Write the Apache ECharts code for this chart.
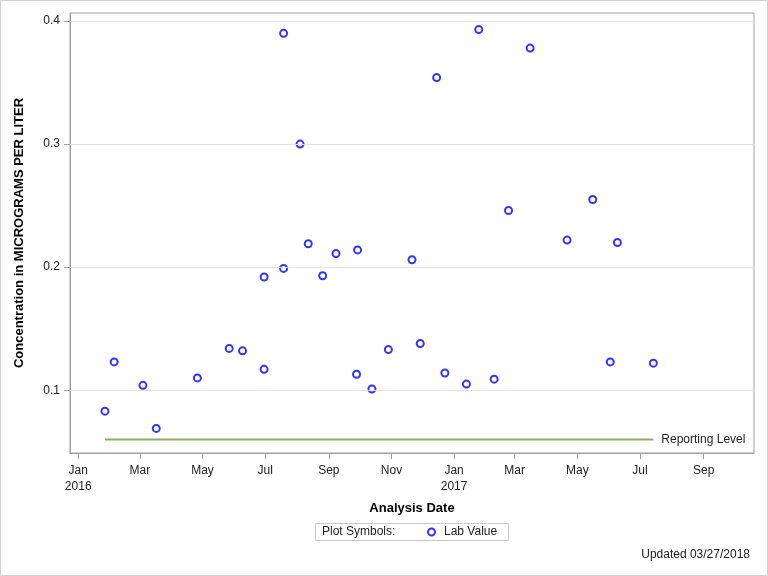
<!DOCTYPE html>
<html>
<head>
<meta charset="utf-8">
<script src="https://cdn.jsdelivr.net/npm/echarts@6/dist/echarts.min.js"></script>
<style>
html,body{margin:0;padding:0;background:#fff;}
#chart{width:768px;height:576px;}
</style>
</head>
<body>
<div id="chart"></div>
<script>
// ---- data ----
var sampleDates = [
  '2016-01-27','2016-02-05','2016-03-04','2016-03-17','2016-04-26','2016-05-27',
  '2016-06-09','2016-06-30','2016-06-30','2016-07-19','2016-07-19','2016-08-04',
  '2016-08-12','2016-08-26','2016-09-08','2016-09-29','2016-09-28','2016-10-13',
  '2016-10-29','2016-11-21','2016-11-29','2016-12-15','2016-12-23','2017-01-13',
  '2017-01-25','2017-02-09','2017-02-23','2017-03-16','2017-04-21','2017-05-16',
  '2017-06-02','2017-06-09','2017-07-14'
];
var labValues = [
  0.083, 0.123, 0.104, 0.069, 0.110, 0.134,
  0.132, 0.192, 0.117, 0.199, 0.390, 0.300,
  0.219, 0.193, 0.211, 0.214, 0.113, 0.101,
  0.133, 0.206, 0.138, 0.354, 0.114, 0.105,
  0.393, 0.109, 0.246, 0.378, 0.222, 0.255,
  0.123, 0.220, 0.122
];
var reportingLevel = 0.06;
var reportingDates = ['2016-01-27', '2017-07-14'];
var xTickDates = ['2016-01-01','2016-03-01','2016-05-01','2016-07-01','2016-09-01','2016-11-01',
                  '2017-01-01','2017-03-01','2017-05-01','2017-07-01','2017-09-01'];
var xTickLabels = ['Jan\n2016','Mar','May','Jul','Sep','Nov','Jan\n2017','Mar','May','Jul','Sep'];
var yTickValues = [0.1, 0.2, 0.3, 0.4];
var yTickLabels = ['0.1','0.2','0.3','0.4'];
var xMin = '2015-12-24', xMax = '2017-10-20';
var yMin = 0.049, yMax = 0.4065;

function ts(s){ return Date.UTC(+s.slice(0,4), +s.slice(5,7) - 1, +s.slice(8,10)); }
var xTickTs = xTickDates.map(ts);

var FONT = '"Liberation Sans", Arial, sans-serif';
var chart = echarts.init(document.getElementById('chart'), null, {renderer:'canvas'});
var option = {
  backgroundColor: '#fff',
  animation: false,
  textStyle: { fontFamily: FONT },
  grid: { left: 70, right: 14, top: 13, bottom: 123, show: true, borderColor: '#a0a0a0', borderWidth: 1, containLabel: false },
  xAxis: {
    type: 'value',
    min: ts(xMin), max: ts(xMax),
    name: 'Analysis Date', nameLocation: 'middle', nameGap: 49,
    nameTextStyle: { fontFamily: FONT, fontSize: 13, fontWeight: 'bold', color: '#000' },
    axisLine: { show: true, lineStyle: { color: '#a0a0a0', width: 1 } },
    axisTick: { show: true, inside: false, length: 6, lineStyle: { color: '#a0a0a0' }, customValues: xTickTs },
    axisLabel: {
      customValues: xTickTs, margin: 10, fontFamily: FONT, fontSize: 12, color: '#222', lineHeight: 16,
      formatter: function (v) {
        var i = xTickTs.indexOf(v);
        return i >= 0 ? xTickLabels[i] : '';
      }
    },
    splitLine: { show: false },
    minorTick: { show: false }
  },
  yAxis: {
    type: 'value',
    min: yMin, max: yMax,
    name: 'Concentration in MICROGRAMS PER LITER', nameLocation: 'middle', nameGap: 44,
    nameTextStyle: { fontFamily: FONT, fontSize: 13, fontWeight: 'bold', color: '#000' },
    axisLine: { show: true, lineStyle: { color: '#a0a0a0', width: 1 } },
    axisTick: { show: true, inside: false, length: 6, lineStyle: { color: '#a0a0a0' }, customValues: yTickValues },
    axisLabel: {
      customValues: yTickValues, margin: 10, fontFamily: FONT, fontSize: 12, color: '#222',
      formatter: function (v) {
        for (var i = 0; i < yTickValues.length; i++) if (Math.abs(yTickValues[i] - v) < 1e-9) return yTickLabels[i];
        return '';
      }
    },
    splitLine: { show: false }
  },
  legend: {
    data: ['Lab Value'],
    left: 422, top: 521,
    itemWidth: 7, itemHeight: 7, itemGap: 6,
    itemStyle: { borderWidth: 1.1 },
    textStyle: { fontFamily: FONT, fontSize: 12, color: '#222', padding: [0, 0, 0, 4] },
    selectedMode: false
  },
  series: [
    {
      name: 'gridlines', type: 'line', data: [], silent: true,
      markLine: {
        silent: true, symbol: 'none', label: { show: false },
        lineStyle: { color: '#e2e2e2', type: 'solid', width: 1 },
        data: yTickValues.map(function (v) { return { yAxis: v }; })
      }
    },
    {
      name: 'Reporting Level', type: 'line', silent: true, showSymbol: false, symbol: 'none',
      data: reportingDates.map(function (d) { return [ts(d), reportingLevel]; }),
      lineStyle: { color: '#8fae5d', width: 2 },
      endLabel: { show: true, formatter: 'Reporting Level', distance: 8, fontFamily: FONT, fontSize: 12, color: '#222' },
      z: 2
    },
    {
      name: 'Lab Value', type: 'scatter', symbol: 'emptyCircle', symbolSize: 7,
      data: sampleDates.map(function (d, i) { return [ts(d), labValues[i]]; }),
      itemStyle: { color: '#0000ff', borderColor: '#0000ff', borderWidth: 1.1 },
      z: 3
    }
  ],
  graphic: [
    { type: 'rect', shape: { x: 0.5, y: 0.5, width: 767, height: 575 }, style: { fill: 'none', stroke: '#d0d0d0', lineWidth: 1 }, silent: true, z: -10 },
    { type: 'rect', shape: { x: 315.5, y: 523.5, width: 193, height: 17 }, style: { fill: 'none', stroke: '#c8c8c8', lineWidth: 1 }, silent: true },
    { type: 'text', left: 322, top: 526, style: { text: 'Plot Symbols:', font: '12px ' + FONT, fill: '#222' }, silent: true },
    { type: 'text', right: 18, top: 549, style: { text: 'Updated 03/27/2018', font: '12px ' + FONT, fill: '#222' }, silent: true }
  ]
};
chart.setOption(option);
</script>
</body>
</html>
